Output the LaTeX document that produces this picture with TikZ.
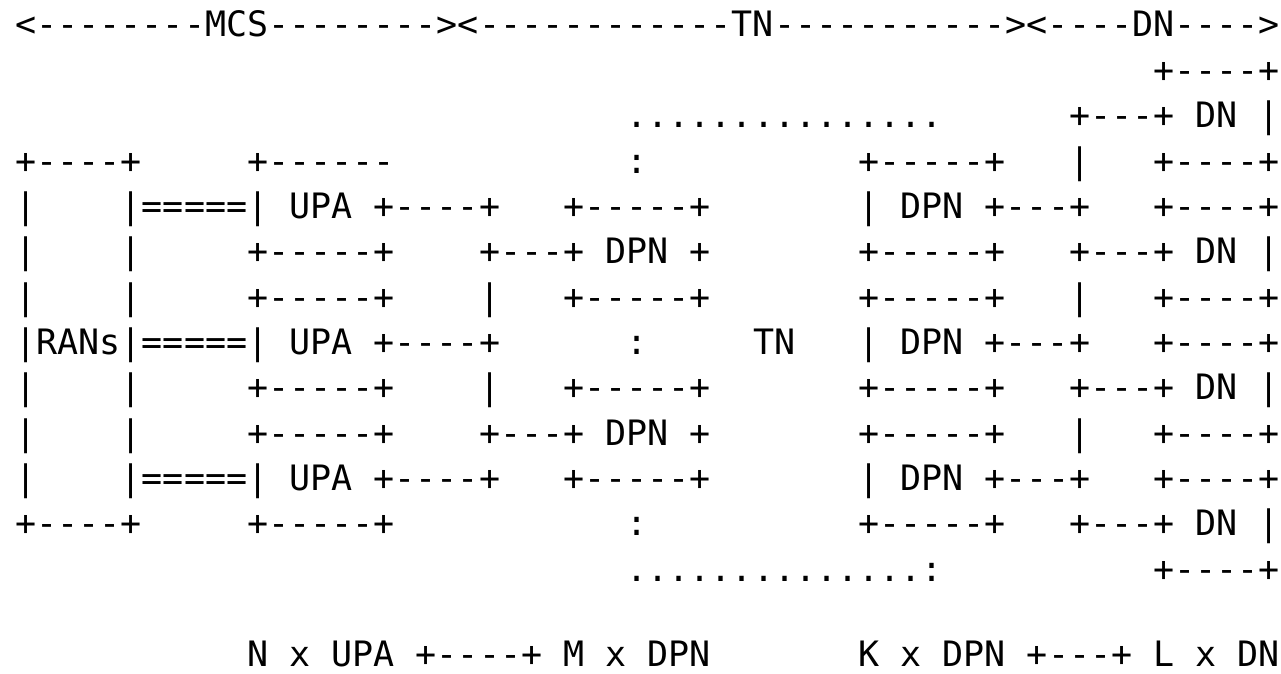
\documentclass[tikz,border=0pt]{standalone}
\usepackage{fontspec}
\setmonofont{DejaVu Sans Mono}
% blank run of n character cells in the monospaced font
\newcommand\gap[1]{\hspace*{\dimexpr0.60205em*#1\relax}}
\begin{document}
\begin{tikzpicture}[x=1pt,y=1pt,
  row/.style={anchor=base west,inner sep=0pt,outer sep=0pt,
    font=\ttfamily\fontsize{35}{42}\selectfont}]
\useasboundingbox (0,0) rectangle (1281,673);
\def\lx{15.5}
% header: extent of each domain
\node[row] (r01) at (\lx,636.00) {<--------MCS--------><------------TN-----------><----DN---->};
\node[row] (r02) at (\lx,590.64) {\gap{54}+----+};
\node[row] (r03) at (\lx,545.28) {\gap{29}...............\gap{6}+---+ DN |};
\node[row] (r04) at (\lx,499.92) {+----+\gap{5}+------\gap{11}:\gap{10}+-----+\gap{3}|\gap{3}+----+};
\node[row] (r05) at (\lx,454.56) {|\gap{4}|=====| UPA +----+\gap{3}+-----+\gap{7}| DPN +---+\gap{3}+----+};
\node[row] (r06) at (\lx,409.20) {|\gap{4}|\gap{5}+-----+\gap{4}+---+ DPN +\gap{7}+-----+\gap{3}+---+ DN |};
\node[row] (r07) at (\lx,363.84) {|\gap{4}|\gap{5}+-----+\gap{4}|\gap{3}+-----+\gap{7}+-----+\gap{3}|\gap{3}+----+};
\node[row] (r08) at (\lx,318.48) {|RANs|=====| UPA +----+\gap{6}:\gap{5}TN\gap{3}| DPN +---+\gap{3}+----+};
\node[row] (r09) at (\lx,273.12) {|\gap{4}|\gap{5}+-----+\gap{4}|\gap{3}+-----+\gap{7}+-----+\gap{3}+---+ DN |};
\node[row] (r10) at (\lx,227.76) {|\gap{4}|\gap{5}+-----+\gap{4}+---+ DPN +\gap{7}+-----+\gap{3}|\gap{3}+----+};
\node[row] (r11) at (\lx,182.40) {|\gap{4}|=====| UPA +----+\gap{3}+-----+\gap{7}| DPN +---+\gap{3}+----+};
\node[row] (r12) at (\lx,137.04) {+----+\gap{5}+-----+\gap{11}:\gap{10}+-----+\gap{3}+---+ DN |};
\node[row] (r13) at (\lx,91.68) {\gap{29}..............:\gap{10}+----+};
% counts of each element type
\node[row] (r15) at (\lx,7.0) {\gap{11}N x UPA +----+ M x DPN\gap{7}K x DPN +---+ L x DN};
\end{tikzpicture}
\end{document}
